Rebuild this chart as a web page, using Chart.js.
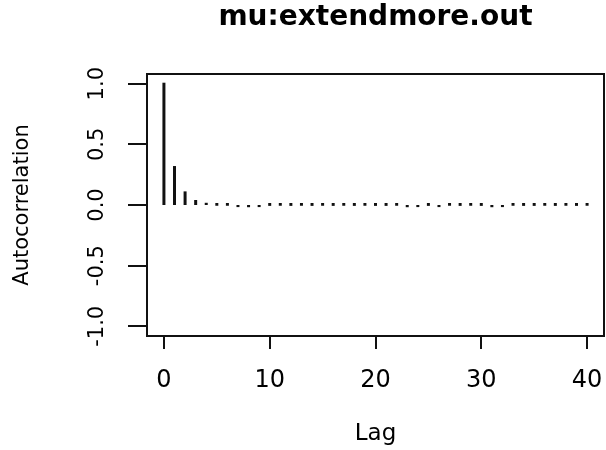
<!DOCTYPE html>
<html>
<head>
<meta charset="utf-8">
<title>mu:extendmore.out</title>
<script src="https://cdn.jsdelivr.net/npm/chart.js@4/dist/chart.umd.min.js"></script>
<style>
  html, body { margin: 0; padding: 0; background: #fff; }
  canvas { display: block; }
</style>
</head>
<body>
<canvas id="acfChart" width="606" height="450"></canvas>
<script>
// ACF of the mu chain, lags 0..40
const lags = [0, 1, 2, 3, 4, 5, 6, 7, 8, 9, 10,
              11, 12, 13, 14, 15, 16, 17, 18, 19, 20,
              21, 22, 23, 24, 25, 26, 27, 28, 29, 30,
              31, 32, 33, 34, 35, 36, 37, 38, 39, 40];
const acf = [1.0, 0.313, 0.104, 0.033, 0.010, 0.002, 0.002, -0.009, -0.010, -0.009, 0.001,
             0.002, 0.001, 0.002, 0.001, 0.002, 0.001, 0.002, 0.001, 0.002, 0.001,
             0.001, 0.002, -0.010, -0.009, 0.001, -0.009, 0.002, 0.001, 0.002, 0.001,
             -0.010, -0.009, 0.002, 0.001, 0.001, 0.002, 0.001, 0.002, 0.001, 0.002];
const xTicks = [0, 10, 20, 30, 40];
const yTicks = [-1.0, -0.5, 0.0, 0.5, 1.0];

const ink = '#111111';
const family = "'DejaVu Sans', 'Liberation Sans', sans-serif";

// closed frame round the plotting region
const plotBox = {
    id: 'plotBox',
    afterDraw(chart) {
        const { ctx, chartArea: a } = chart;
        ctx.save();
        ctx.strokeStyle = ink;
        ctx.lineWidth = 2;
        ctx.strokeRect(a.left, a.top, a.right - a.left, a.bottom - a.top);
        ctx.restore();
    }
};

new Chart(document.getElementById('acfChart'), {
    type: 'bar',
    data: {
        datasets: [{
            data: lags.map((lag, i) => ({ x: lag, y: acf[i] })),
            backgroundColor: ink,
            borderWidth: 0,
            barThickness: 1,
            inflateAmount: 1
        }]
    },
    options: {
        responsive: false,
        animation: false,
        layout: { padding: { top: 0, right: 2, bottom: 0, left: 0 } },
        plugins: {
            legend: { display: false },
            tooltip: { enabled: false },
            title: { display: false }
        },
        scales: {
            x: {
                type: 'linear',
                min: -1.6,
                max: 41.6,
                offset: false,
                afterBuildTicks: (scale) => { scale.ticks = xTicks.map(v => ({ value: v })); },
                afterFit: (scale) => {
                    scale.height = 114;
                    scale.paddingLeft = 0;
                    scale.paddingRight = 0;
                },
                grid: { offset: false, drawOnChartArea: false, drawTicks: true, tickLength: 13, lineWidth: 2, color: ink },
                border: { display: false },
                ticks: {
                    color: '#000',
                    font: { family: family, size: 24 },
                    padding: 17,
                    maxRotation: 0,
                    autoSkip: false,
                    callback: (v) => String(v)
                },
                title: {
                    display: true,
                    text: 'Lag',
                    color: '#000',
                    font: { family: family, size: 23 },
                    padding: { top: 0, bottom: 2 }
                }
            },
            // top axis only carries the heading, centred over the plot
            heading: {
                type: 'linear',
                position: 'top',
                afterFit: (scale) => {
                    scale.height = 74;
                    scale.paddingLeft = 0;
                    scale.paddingRight = 0;
                },
                grid: { display: false },
                border: { display: false },
                ticks: { display: false },
                title: {
                    display: true,
                    text: 'mu:extendmore.out',
                    color: '#000',
                    font: { family: family, size: 28, weight: 'bold' },
                    padding: { top: 0.5, bottom: 0 }
                }
            },
            y: {
                min: -1.08,
                max: 1.08,
                afterBuildTicks: (scale) => { scale.ticks = yTicks.map(v => ({ value: v })); },
                afterFit: (scale) => {
                    scale.width = 147;
                    scale.paddingTop = 0;
                    scale.paddingBottom = 0;
                },
                grid: { drawOnChartArea: false, drawTicks: true, tickLength: 19, lineWidth: 2, color: ink },
                border: { display: false },
                ticks: {
                    color: '#000',
                    font: { family: family, size: 21 },
                    padding: 10,
                    minRotation: 90,
                    maxRotation: 90,
                    crossAlign: 'center',
                    autoSkip: false,
                    callback: (v) => v.toFixed(1)
                },
                title: {
                    display: true,
                    text: 'Autocorrelation',
                    color: '#000',
                    font: { family: family, size: 21 },
                    padding: { top: 10, bottom: 0 }
                }
            }
        }
    },
    plugins: [plotBox]
});
</script>
</body>
</html>
